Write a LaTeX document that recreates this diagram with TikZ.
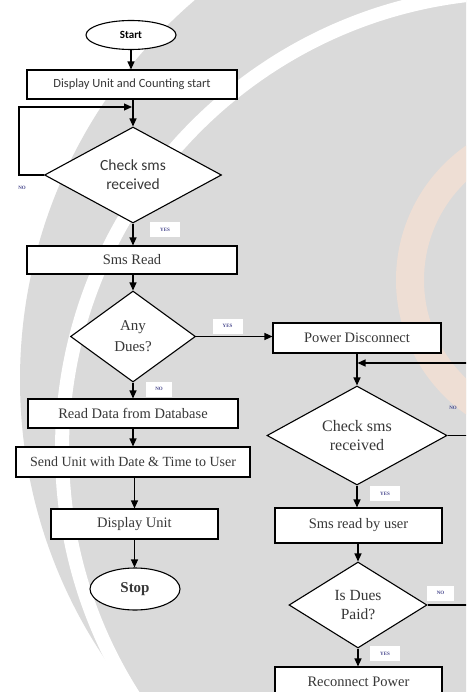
\documentclass[tikz,border=0pt]{standalone}
\usepackage{fontspec}
\setmainfont{Liberation Serif}
\newfontfamily\calfont{Carlito}
\usetikzlibrary{shapes.geometric,arrows.meta}
\definecolor{wmgrey}{RGB}{218,218,218}
\definecolor{wmpeach}{RGB}{238,222,212}
\definecolor{txtgrey}{RGB}{55,55,55}
\definecolor{lblcol}{RGB}{70,70,140}
\tikzset{
  conn/.style={line width=1.2pt,draw=black},
  arr/.style={conn,-{Triangle[length=8pt,width=7pt]}},
  boxnode/.style={draw=black,line width=1.1pt,fill=white,rectangle,inner sep=0pt,text=txtgrey,
    font=\fontsize{14.5}{17}\selectfont},
  calbox/.style={boxnode,font=\calfont\fontsize{12.5}{15}\selectfont},
  decnode/.style={draw=black,line width=1.1pt,fill=white,diamond,inner sep=0pt,align=center,text=txtgrey},
  termnode/.style={draw=black,line width=1.1pt,fill=white,ellipse,inner sep=0pt},
  lblbox/.style={fill=white,inner sep=0pt,minimum width=30pt,minimum height=15pt,text=lblcol,
    font=\fontsize{5}{6}\selectfont\bfseries},
  lblfree/.style={inner sep=0pt,text=lblcol,font=\fontsize{5}{6}\selectfont\bfseries}
}
\begin{document}
\begin{tikzpicture}[x=1pt,y=-1pt]
\useasboundingbox (0,0) rectangle (466,692);
\clip (0,0) rectangle (466,692);
\fill[white] (0,0) rectangle (466,692);
% watermark
\fill[wmgrey] (520,380) circle (500);
\draw[white,line width=14pt] (520,450) circle (458);
\draw[wmpeach,line width=28pt] (560,280) circle (150);
% nodes
\node[termnode,minimum width=90pt,minimum height=29pt,font=\calfont\bfseries\fontsize{11}{13}\selectfont] (start) at (131,35) {Start};
\node[calbox,minimum width=210pt,minimum height=29pt] (disp) at (132,84.5) {Display Unit and Counting start};
\node[decnode,minimum width=177pt,minimum height=96pt,aspect=1.84,font=\calfont\fontsize{15.5}{19}\selectfont] (chk1) at (133,175) {Check sms\\received};
\node[boxnode,minimum width=210pt,minimum height=28pt] (smsr) at (132,260) {Sms Read};
\node[decnode,minimum width=125pt,minimum height=91pt,aspect=1.37,font=\fontsize{15}{21}\selectfont] (dues) at (133,336.5) {Any\\Dues?};
\node[boxnode,minimum width=210pt,minimum height=29pt] (readd) at (133,413.5) {Read Data from Database};
\node[boxnode,minimum width=234pt,minimum height=30pt,font=\fontsize{14}{17}\selectfont] (send) at (133,462) {Send Unit with Date \& Time to User};
\node[boxnode,minimum width=167pt,minimum height=30pt] (dispu) at (134.5,524) {Display Unit};
\node[termnode,minimum width=90pt,minimum height=42pt,font=\fontsize{15}{18}\selectfont\bfseries,text=txtgrey] (stop) at (135,589) {Stop};
\node[boxnode,minimum width=168pt,minimum height=30pt] (pdis) at (357,338) {Power Disconnect};
\node[decnode,minimum width=180pt,minimum height=99pt,aspect=1.82,font=\fontsize{16}{19}\selectfont] (chk2) at (357,435.5) {Check sms\\received};
\node[boxnode,minimum width=167pt,minimum height=35pt] (smsu) at (358.5,525.5) {Sms read by user};
\node[decnode,minimum width=138pt,minimum height=86pt,aspect=1.6,font=\fontsize{15.5}{19}\selectfont] (paid) at (358,605) {Is Dues\\Paid?};
\node[boxnode,minimum width=167pt,minimum height=30pt] (recon) at (358.5,682) {Reconnect Power};
% coordinates
\coordinate (l1a) at (19,175);
\coordinate (l1b) at (19,107);
\coordinate (l1c) at (132,107);
\coordinate (r1) at (480,435.5);
\coordinate (r2) at (480,605);
\coordinate (r3) at (480,363);
\coordinate (r4) at (357.5,363);
% connectors
\draw[arr] (start.south) -- (start.south |- disp.north);
\draw[arr] (disp.south -| chk1.north) -- (chk1.north);
\draw[arr] (chk1.west) -- (l1a) -- (l1b) -- (l1c);
\draw[arr] (chk1.south) -- (chk1.south |- smsr.north);
\draw[arr] (smsr.south -| dues.north) -- (dues.north);
\draw[arr] (dues.east) -- (dues.east -| pdis.west);
\draw[arr] (dues.south) -- (dues.south |- readd.north);
\draw[arr] (readd.south) -- (readd.south |- send.north);
\draw[arr] (send.south -| dispu.north) -- (dispu.north);
\draw[arr] (dispu.south) -- (dispu.south |- stop.north);
\draw[arr] (pdis.south -| chk2.north) -- (chk2.north);
\draw[conn] (chk2.east) -- (r1);
\draw[conn] (paid.east) -- (r2);
\draw[arr] (r3) -- (r4);
\draw[arr] (chk2.south) -- (chk2.south |- smsu.north);
\draw[arr] (smsu.south -| paid.north) -- (paid.north);
\draw[arr] (paid.south) -- (paid.south |- recon.north);
% labels
\node[lblfree] (n1) at (22,188) {NO};
\node[lblbox] (y1) at (165,229.5) {YES};
\node[lblbox] (y2) at (227.5,326) {YES};
\node[lblbox,minimum width=26pt] (n2) at (159,389) {NO};
\node[lblfree] (n3) at (453,408) {NO};
\node[lblbox] (y3) at (385,493.5) {YES};
\node[lblbox,minimum width=27pt] (n4) at (440.5,593) {NO};
\node[lblbox] (y4) at (385,653.5) {YES};
\end{tikzpicture}
\end{document}
